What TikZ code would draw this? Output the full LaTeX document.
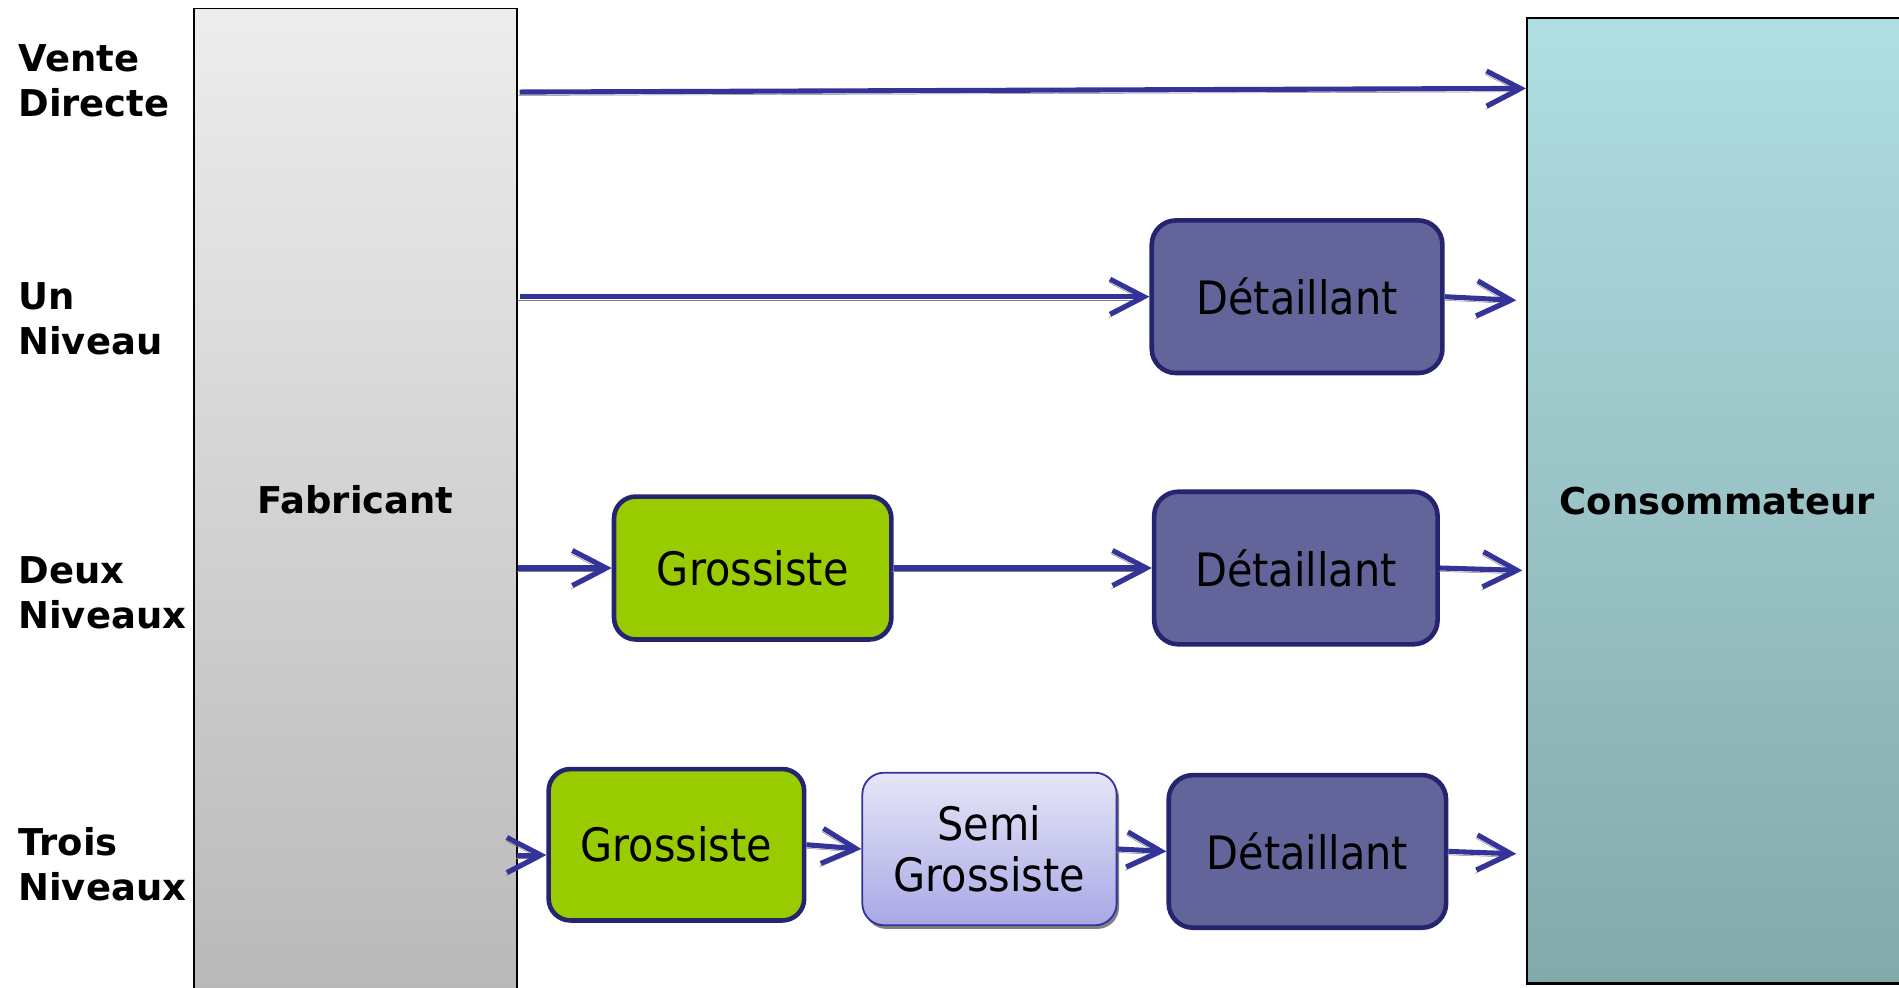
\documentclass[tikz,border=0pt]{standalone}
\usepackage{fontspec}
\setmainfont{DejaVu Sans}
\newfontfamily\boxfont{DejaVu Sans}[FakeStretch=0.9]
\usetikzlibrary{arrows.meta}

\definecolor{flowblue}{RGB}{51,51,153}
\definecolor{flowshadow}{RGB}{128,128,128}
\definecolor{boxedge}{RGB}{37,36,110}
\definecolor{retailfill}{RGB}{99,100,153}
\definecolor{wholesalefill}{RGB}{153,204,0}
\definecolor{semitop}{RGB}{230,230,247}
\definecolor{semibottom}{RGB}{168,168,230}
\definecolor{semiedge}{RGB}{51,51,160}
\definecolor{fabtop}{RGB}{237,237,237}
\definecolor{fabbottom}{RGB}{185,185,185}
\definecolor{constop}{RGB}{176,222,226}
\definecolor{consmid}{RGB}{168,211,215}
\definecolor{consbottom}{RGB}{131,169,170}

\begin{document}
\begin{tikzpicture}[x=1pt,y=-1pt,
  levellabel/.style={anchor=west, align=left, inner sep=0pt,
    font=\fontsize{30.5}{37}\selectfont\bfseries},
  party/.style={draw=black, line width=1.6pt, inner sep=0pt,
    font=\fontsize{30.5}{37}\selectfont\bfseries},
  stage/.style={draw=boxedge, line width=3.8pt, rounded corners=20pt,
    inner sep=0pt, align=center, font=\boxfont\fontsize{38}{42}\selectfont},
  retail/.style={stage, fill=retailfill},
  wholesale/.style={stage, fill=wholesalefill, rounded corners=18pt},
  semiwholesale/.style={stage, draw=semiedge, line width=1.5pt, rounded corners=18pt,
    top color=semitop, bottom color=semibottom,
    preaction={fill=flowshadow, transform canvas={shift={(2,3)}}}},
  flow/.style={draw=flowblue, line width=4.2pt,
    -{Straight Barb[length=28pt,width=29pt]},
    preaction={draw=flowshadow, transform canvas={shift={(-1,2.8)}}}}
]
\clip (0,0) rectangle (1568,815);
\fill[white] (0,0) rectangle (1568,815);

% the two ends of every channel
\node[party, top color=fabtop, bottom color=fabbottom,
  minimum width=267pt, minimum height=811pt] (fab) at (293.5,412.5) {Fabricant};
\node[party, draw=black, line width=2pt, top color=constop, middle color=consmid,
  bottom color=consbottom, minimum width=314pt, minimum height=797pt]
  (cons) at (1418,413.5) {Consommateur};

% channel names
\node[levellabel] (lbl1) at (15,67) {Vente\\Directe};
\node[levellabel] (lbl2) at (15,263.5) {Un\\Niveau};
\node[levellabel] (lbl3) at (15,489.5) {Deux\\Niveaux};
\node[levellabel] (lbl4) at (15,713.5) {Trois\\Niveaux};

% intermediaries
\node[retail, minimum width=240pt, minimum height=126pt] (det1) at (1071,245) {Détaillant};
\node[wholesale, minimum width=229pt, minimum height=118pt] (gros2) at (621.5,469) {Grossiste};
\node[retail, minimum width=234pt, minimum height=126pt] (det2) at (1070,469) {Détaillant};
\node[wholesale, minimum width=211pt, minimum height=125pt] (gros3) at (558.5,697.5) {Grossiste};
\node[semiwholesale, minimum width=210pt, minimum height=126pt] (semi) at (817,701) {Semi\\Grossiste};
\node[retail, minimum width=229pt, minimum height=126pt] (det3) at (1079.5,703) {Détaillant};

% free ends of the connectors
\coordinate (a1s) at (429,76);
\coordinate (a1e) at (1260,73);
\coordinate (a2s) at (429,245);
\coordinate (a2e) at (1252,248);
\coordinate (a3s) at (428,469);
\coordinate (a3e) at (1257,471);
\coordinate (a4s) at (427,706);
\coordinate (a4e) at (1252,705);

% direct sale
\draw[flow] (a1s) -- (a1e);
% one level
\draw[flow] (a2s) -- (a2s -| det1.west);
\draw[flow] (det1.east) -- (a2e);
% two levels
\draw[flow] (a3s) -- (gros2.west);
\draw[flow] (gros2.east) -- (det2.west);
\draw[flow] (det2.east) -- (a3e);
% three levels
\draw[flow] (a4s) -- (a4s -| gros3.west);
\draw[flow] (gros3.east) -- (semi.west);
\draw[flow] (semi.east) -- (det3.west);
\draw[flow] (det3.east) -- (a4e);
\end{tikzpicture}
\end{document}
